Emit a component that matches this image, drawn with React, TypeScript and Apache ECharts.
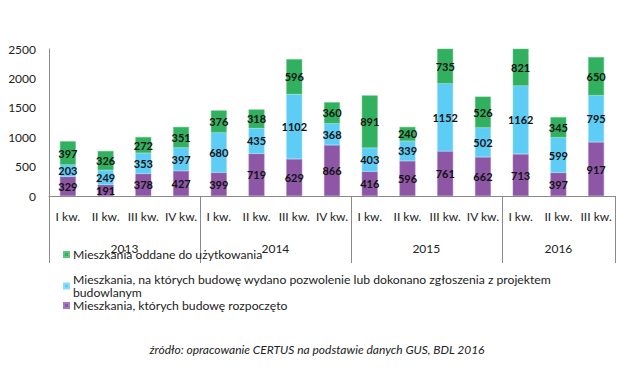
import React, { useEffect, useRef } from "react";
import * as echarts from "echarts";

const quarters = ["I kw.", "II kw.", "III kw.", "IV kw.", "I kw.", "II kw.", "III kw.", "IV kw.", "I kw.", "II kw.", "III kw.", "IV kw.", "I kw.", "II kw.", "III kw."];
const years = ["2013", "2014", "2015", "2016"];
const yearCenters = [2, 6, 10, 13.5];
const yearBounds = [0, 4, 8, 12, 15];
const started = [329, 191, 378, 427, 399, 719, 629, 866, 416, 596, 761, 662, 713, 397, 917];
const permits = [203, 249, 353, 397, 680, 435, 1102, 368, 403, 339, 1152, 502, 1162, 599, 795];
const completed = [397, 326, 272, 351, 376, 318, 596, 360, 891, 240, 735, 526, 821, 345, 650];
const yTicks = [0, 500, 1000, 1500, 2000, 2500];

const nameCompleted = "Mieszkania oddane do użytkowania";
const namePermits = "Mieszkania, na których budowę wydano pozwolenie lub dokonano zgłoszenia z projektem\nbudowlanym";
const nameStarted = "Mieszkania, których budowę rozpoczęto";
const source = "źródło: opracowanie CERTUS na podstawie danych GUS, BDL 2016";

const FONT = "Lato, 'Noto Sans', sans-serif";

export default function App() {
  const ref = useRef<HTMLDivElement>(null);
  useEffect(() => {
    if (!ref.current) return;
    const chart = echarts.init(ref.current, undefined, { renderer: "svg" });
    const label = {
      show: true,
      position: "inside",
      color: "#111",
      fontWeight: "bold",
      fontSize: 11,
      fontFamily: FONT,
    };
    const legendBase = {
      orient: "vertical",
      left: 58,
      itemWidth: 5,
      itemHeight: 5,
      itemGap: 4,
      icon: "rect",
      textStyle: { fontSize: 12.2, color: "#222", fontFamily: FONT, lineHeight: 13, padding: [0, 0, 0, -1] },
      selectedMode: false,
    };
    chart.setOption({
      animation: false,
      textStyle: { fontFamily: FONT },
      title: {
        text: source,
        left: 312,
        textAlign: "center",
        top: 338,
        textStyle: { fontSize: 12, fontStyle: "italic", fontWeight: "normal", color: "#222", fontFamily: FONT },
      },
      legend: [
        { ...legendBase, top: 243, data: [nameCompleted] },
        { ...legendBase, top: 268, data: [namePermits] },
        { ...legendBase, top: 294, data: [nameStarted] },
      ],
      grid: { left: 49, right: 25, top: 49, bottom: 174 },
      xAxis: [
        {
          type: "category",
          data: quarters,
          axisLine: { lineStyle: { color: "#8a8a8a", width: 1 } },
          axisTick: { show: false },
          axisLabel: { color: "#222", fontSize: 12, margin: 14, fontFamily: FONT, interval: 0 },
        },
        {
          type: "value",
          position: "bottom",
          min: 0,
          max: 15,
          axisLine: { show: false },
          splitLine: { show: false },
          axisTick: { show: true, customValues: yearBounds, length: 67, lineStyle: { color: "#8a8a8a" } },
          axisLabel: {
            customValues: yearCenters,
            margin: 46,
            color: "#222",
            fontSize: 12,
            fontFamily: FONT,
            formatter: (v: number) => years[yearCenters.indexOf(v)] ?? "",
          },
        },
      ],
      yAxis: {
        type: "value",
        min: 0,
        max: 2500,
        interval: 500,
        axisLine: { show: true, lineStyle: { color: "#8a8a8a" } },
        axisTick: { show: false },
        splitLine: { show: false },
        axisLabel: {
          color: "#222",
          fontSize: 12,
          margin: 13,
          fontFamily: FONT,
          customValues: yTicks,
          formatter: (v: number) => String(v),
        },
      },
      series: [
        { name: nameStarted, type: "bar", stack: "s", data: started, barWidth: "42%", itemStyle: { color: "#8d57a6", borderColor: "#a27bbb", borderWidth: 0.5 }, label },
        { name: namePermits, type: "bar", stack: "s", data: permits, itemStyle: { color: "#5dcdf6", borderColor: "#8adcf8", borderWidth: 0.5 }, label },
        { name: nameCompleted, type: "bar", stack: "s", data: completed, itemStyle: { color: "#31b15f", borderColor: "#5fc27f", borderWidth: 0.5 }, label },
      ],
    });
    return () => chart.dispose();
  }, []);
  return <div ref={ref} style={{ width: 640, height: 370, margin: -8, background: "#fff" }} />;
}
